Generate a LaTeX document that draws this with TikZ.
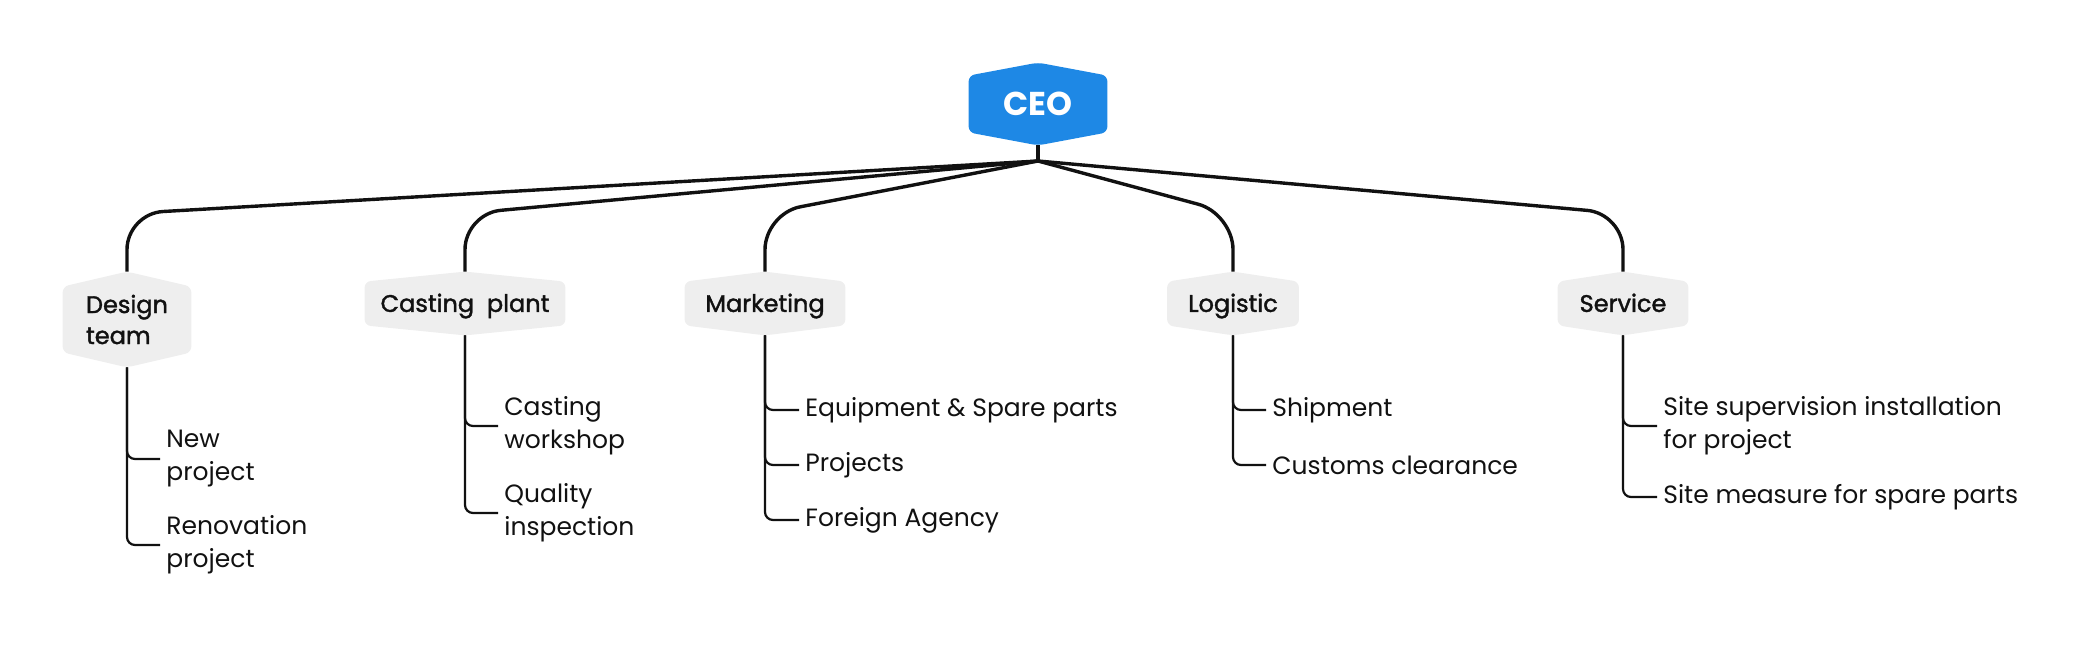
\documentclass[tikz,border=0pt]{standalone}
\usepackage{fontspec}
\setmainfont{Poppins}
\newfontfamily\medfont{Poppins}[FakeBold=1.6]
\usetikzlibrary{backgrounds,calc}
\definecolor{ceoblue}{HTML}{1E88E5}
\definecolor{boxgray}{HTML}{EEEEEE}
\definecolor{linec}{HTML}{111111}
\newcommand\hexfill[3]{%
  \begin{scope}[on background layer]
  \fill[#3, rounded corners=3pt] (#1.north) -- ([yshift=-#2]#1.north east) -- ([yshift=#2]#1.south east) -- (#1.south) -- ([yshift=#2]#1.south west) -- ([yshift=-#2]#1.north west) -- cycle;
  \end{scope}}
\tikzset{
  hexlabel/.style={inner sep=0pt, align=left, text=linec, font=\fontsize{12}{15.5}\selectfont\medfont},
  oneline/.style={text height=10pt, text depth=1.6pt},
  ceobox/.style={inner sep=0pt, text=white, text height=12.6pt, text depth=1pt, font=\fontsize{16.5}{18}\selectfont\bfseries},
  leaf/.style={anchor=west, inner sep=3pt, align=left, text=linec, font=\fontsize{12.5}{16.5}\selectfont},
  trunk/.style={draw=linec, line width=1.7pt, rounded corners=18pt},
  twig/.style={draw=linec, line width=1.1pt, rounded corners=4pt},
}
\begin{document}
\begin{tikzpicture}[x=0.5pt,y=-0.5pt]
\useasboundingbox (0,0) rectangle (2076,648);
% CEO
\node[ceobox, minimum width=69pt, minimum height=41pt] (ceo) at (1038,104) {CEO};
\hexfill{ceo}{6.5pt}{ceoblue}
\coordinate (J) at (1038,161);
% departments
\node[hexlabel, minimum width=64pt, minimum height=47.5pt] (design) at (127,319.5) {Design\\team};
\hexfill{design}{7.5pt}{boxgray}
\node[hexlabel, oneline, minimum width=100pt, minimum height=31.5pt] (casting) at (465,303.5) {Casting\ \ plant};
\hexfill{casting}{5pt}{boxgray}
\node[hexlabel, oneline, minimum width=80pt, minimum height=31.5pt] (marketing) at (765,303.5) {Marketing};
\hexfill{marketing}{5pt}{boxgray}
\node[hexlabel, oneline, minimum width=65.5pt, minimum height=31.5pt] (logistic) at (1233,303.5) {Logistic};
\hexfill{logistic}{5pt}{boxgray}
\node[hexlabel, oneline, minimum width=65pt, minimum height=31.5pt] (service) at (1623,303.5) {Service};
\hexfill{service}{5pt}{boxgray}
% trunk connectors
\draw[draw=linec, line width=1.7pt] (ceo.south) -- (J);
\foreach \n in {design,casting,marketing,logistic,service}{
  \draw[trunk] (J) -- ([yshift=29pt]\n.north) -- (\n.north);
}
% leaves
\node[leaf] (d1) at (160,459) {New\\project};
\node[leaf] (d2) at (160,545) {Renovation\\project};
\node[leaf] (c1) at (498,426) {Casting\\workshop};
\node[leaf] (c2) at (498,513) {Quality\\inspection};
\node[leaf] (m1) at (799,410) {Equipment \& Spare parts};
\node[leaf] (m2) at (799,465) {Projects};
\node[leaf] (m3) at (799,520) {Foreign Agency};
\node[leaf] (l1) at (1266,410) {Shipment};
\node[leaf] (l2) at (1266,465) {Customs clearance};
\node[leaf] (s1) at (1657,426) {Site supervision installation\\for project};
\node[leaf] (s2) at (1657,497) {Site measure for spare parts};
\draw[twig] (design.south) |- (d1.west);
\draw[twig] (design.south) |- (d2.west);
\draw[twig] (casting.south) |- (c1.west);
\draw[twig] (casting.south) |- (c2.west);
\draw[twig] (marketing.south) |- (m1.west);
\draw[twig] (marketing.south) |- (m2.west);
\draw[twig] (marketing.south) |- (m3.west);
\draw[twig] (logistic.south) |- (l1.west);
\draw[twig] (logistic.south) |- (l2.west);
\draw[twig] (service.south) |- (s1.west);
\draw[twig] (service.south) |- (s2.west);
\end{tikzpicture}
\end{document}
